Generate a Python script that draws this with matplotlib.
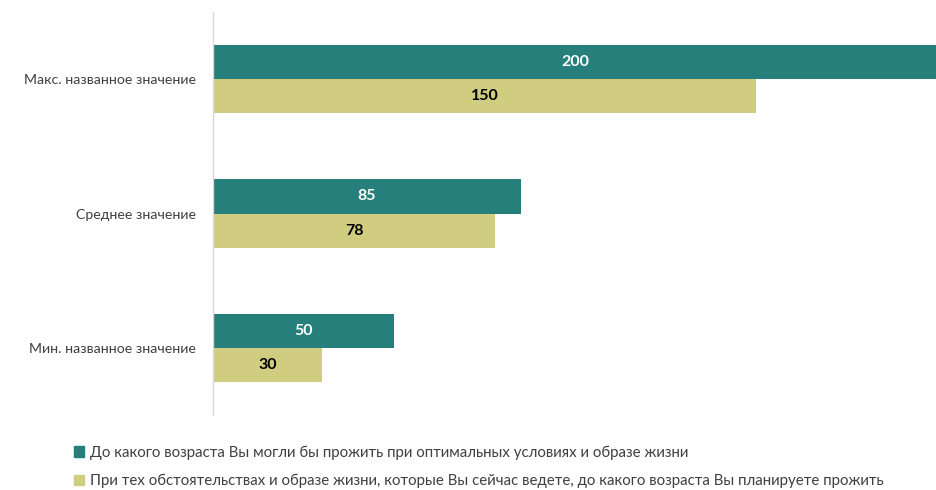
import matplotlib.pyplot as plt
from matplotlib.patches import Patch

plt.rcParams['font.family'] = ['Lato', 'DejaVu Sans']

categories = ['Макс. названное значение', 'Среднее значение', 'Мин. названное значение']
optimal = [200, 85, 50]
current = [150, 78, 30]
series_names = ['До какого возраста Вы могли бы прожить при оптимальных условиях и образе жизни',
                'При тех обстоятельствах и образе жизни, которые Вы сейчас ведете, до какого возраста Вы планируете прожить']
c1 = '#267F7A'
c2 = '#D0CD80'

fig = plt.figure(figsize=(9.37, 4.9), dpi=100)
ax = fig.add_axes([213/937, 75/490, 1 - 213/937, 403/490])
h = 0.255
ys = list(range(len(categories)))
b1 = ax.barh([y - h/2 for y in ys], optimal, height=h, color=c1)
b2 = ax.barh([y + h/2 for y in ys], current, height=h, color=c2)
for rect, v in zip(b1, optimal):
    ax.text(rect.get_width()/2, rect.get_y() + rect.get_height()/2, str(v),
            ha='center', va='center', color='white', fontweight='bold', fontsize=11.5)
for rect, v in zip(b2, current):
    ax.text(rect.get_width()/2, rect.get_y() + rect.get_height()/2, str(v),
            ha='center', va='center', color='black', fontweight='bold', fontsize=11.5)
ax.set_xlim(0, 200)
ax.set_ylim(2.5, -0.5)
ax.set_yticks(ys)
ax.set_yticklabels(categories, fontsize=10.2, color='#404040')
ax.tick_params(axis='y', length=0, pad=12)
ax.set_xticks([])
for s in ['top', 'right', 'bottom']:
    ax.spines[s].set_visible(False)
ax.spines['left'].set_color('#D9D9D9')
ax.spines['left'].set_linewidth(1)

handles = [Patch(color=c1), Patch(color=c2)]
fig.legend(handles, series_names, loc='upper left', bbox_to_anchor=(60/937, 1 - 432/490),
           frameon=False, fontsize=10.8, handlelength=0.7, handleheight=0.7,
           handletextpad=0.4, labelspacing=0.95, labelcolor='#404040')
fig.savefig('out.png', dpi=100)
